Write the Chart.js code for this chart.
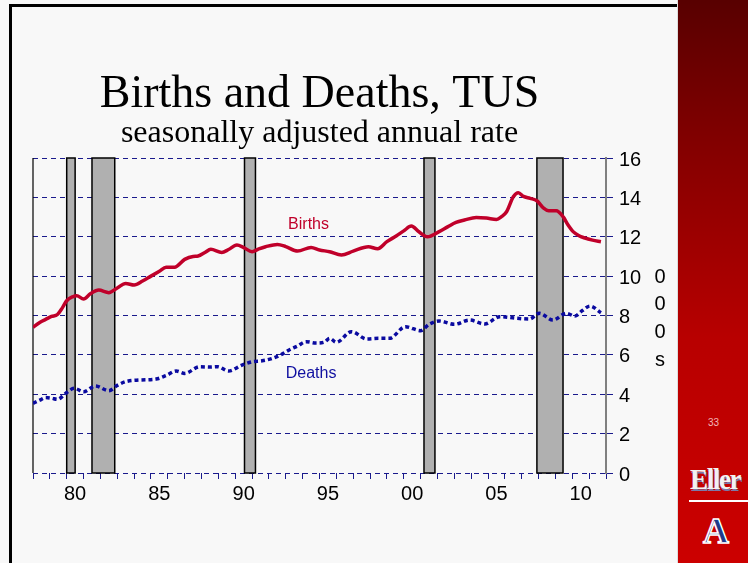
<!DOCTYPE html>
<html>
<head>
<meta charset="utf-8">
<script src="https://cdn.jsdelivr.net/npm/chart.js@4"></script>
<style>
  body { margin: 0; width: 748px; height: 563px; background: #f8f8f8; overflow: hidden; position: relative; font-family: "Liberation Sans", sans-serif; }
  #marco { position: absolute; left: 9px; top: 4px; width: 670px; height: 570px; border-top: 3px solid #000; border-left: 3px solid #000; }
  #lienzo { position: absolute; left: 0; top: 0; width: 678px; height: 563px; }
  #panel { position: absolute; left: 677px; top: 0; width: 71px; height: 563px; border-left: 1px solid #ddd;
           background: linear-gradient(to bottom, #580000 0%, #8a0000 30%, #b80000 60%, #cc0000 100%); }
  #pagina { position: absolute; left: 30px; top: 417px; font-size: 10px; color: #f2b8b8; }
  #eller { position: absolute; left: 12px; top: 462px; font: bold 30px "Liberation Serif", serif; letter-spacing: -1.5px;
           color: #f2f2f2; text-shadow: 1px 2px 0 #7a7aa8; white-space: nowrap; transform: scaleX(0.9); transform-origin: left; }
  #linea { position: absolute; left: 11px; top: 500px; width: 60px; height: 2px; background: #fff; }
  #logo { position: absolute; left: 25px; top: 510px; font: bold 36px "Liberation Serif", serif; color: #1e3a8a;
          -webkit-text-stroke: 1.5px #fff; }
</style>
</head>
<body>
<div id="marco"></div>
<canvas id="lienzo" width="678" height="563"></canvas>
<div id="panel">
  <div id="pagina">33</div>
  <div id="eller">Eller</div>
  <div id="linea"></div>
  <div id="logo">A</div>
</div>
<script>
// =======================
// Datos
// =======================
const birthYears = [1978.0, 1978.4, 1978.75, 1979.1, 1979.45, 1979.75, 1980.0, 1980.35, 1980.6, 1981.0,
  1981.4, 1981.9, 1982.5, 1983.0, 1983.5, 1984.0, 1984.5, 1985.0, 1985.5, 1985.9,
  1986.4, 1987.0, 1987.5, 1987.8, 1988.2, 1988.55, 1989.2, 1989.6, 1990.1, 1990.5,
  1991.0, 1991.4, 1991.8, 1992.5, 1993.0, 1993.7, 1994.5, 1995.0, 1995.6, 1996.3,
  1997.0, 1997.9, 1998.45, 1999.0, 1999.55, 2000.0, 2000.45, 2000.9, 2001.4, 2002.1,
  2002.6, 2003.1, 2003.6, 2004.3, 2004.9, 2005.5, 2005.8, 2006.1, 2006.5, 2006.8,
  2007.1, 2007.5, 2007.9, 2008.3, 2008.6, 2009.05, 2009.45, 2009.75, 2010.05, 2010.4,
  2010.7, 2011.2, 2011.7];
const births = [7.40, 7.65, 7.80, 7.95, 8.05, 8.40, 8.75, 8.95, 9.00, 8.84,
  9.10, 9.29, 9.16, 9.40, 9.63, 9.55, 9.75, 10.00, 10.25, 10.45,
  10.45, 10.85, 11.00, 11.02, 11.20, 11.36, 11.20, 11.35, 11.58, 11.45,
  11.24, 11.38, 11.49, 11.61, 11.50, 11.27, 11.46, 11.33, 11.24, 11.07,
  11.27, 11.49, 11.39, 11.75, 12.04, 12.30, 12.54, 12.25, 12.00, 12.26,
  12.50, 12.73, 12.85, 12.98, 12.95, 12.88, 13.02, 13.27, 14.03, 14.24,
  14.05, 13.95, 13.83, 13.45, 13.32, 13.32, 13.02, 12.60, 12.26, 12.05,
  11.95, 11.83, 11.75];

const deathYears = [1978.0, 1978.4, 1978.75, 1979.1, 1979.45, 1979.95, 1980.45, 1981.0, 1981.7, 1982.5,
  1983.0, 1983.5, 1984.3, 1985.3, 1985.9, 1986.5, 1987.0, 1987.9, 1988.5, 1988.95,
  1989.6, 1990.4, 1991.0, 1991.6, 1992.2, 1992.7, 1993.2, 1993.7, 1994.2, 1994.8,
  1995.3, 1995.6, 1996.0, 1996.9, 1997.8, 1998.5, 1999.15, 2000.1, 2001.0, 2001.5,
  2002.1, 2003.0, 2003.9, 2004.8, 2005.7, 2006.7, 2007.45, 2008.05, 2008.85, 2009.65,
  2010.15, 2010.6, 2011.05, 2011.7];
const deaths = [3.54, 3.70, 3.83, 3.80, 3.74, 4.05, 4.30, 4.13, 4.42, 4.18,
  4.45, 4.64, 4.72, 4.77, 4.95, 5.18, 5.06, 5.40, 5.38, 5.40,
  5.18, 5.48, 5.65, 5.70, 5.82, 6.00, 6.25, 6.45, 6.67, 6.60,
  6.65, 6.84, 6.64, 7.18, 6.81, 6.84, 6.84, 7.43, 7.23, 7.55,
  7.72, 7.55, 7.77, 7.57, 7.94, 7.86, 7.82, 8.11, 7.77, 8.11,
  7.97, 8.25, 8.48, 8.14];

// recesiones (inicio, fin)
const recessions = [[1980.0, 1980.5], [1981.5, 1982.85], [1990.55, 1991.2], [2001.2, 2001.85], [2007.9, 2009.45]];

const xLabelYears = [1980, 1985, 1990, 1995, 2000, 2005, 2010];
const yAxisTitle = ["0", "0", "0", "s"];

// etiquetas de series: [texto, año, valor, color]
const seriesLabels = [["Births", 1994.35, 12.6, "#c0002a"], ["Deaths", 1994.5, 5.03, "#1010a0"]];

const NAVY = "#1a1a8c";

// =======================
// Plugin: recesiones, bordes y etiquetas
// =======================
const fondo = {
  id: "fondo",
  beforeDatasetsDraw(chart) {
    const { ctx, chartArea: a, scales: { x } } = chart;
    ctx.save();
    recessions.forEach(([ini, fin]) => {
      const x0 = x.getPixelForValue(ini);
      const x1 = x.getPixelForValue(fin);
      ctx.fillStyle = "#b0b0b0";
      ctx.fillRect(x0, a.top, x1 - x0, a.bottom - a.top);
      ctx.strokeStyle = "#000";
      ctx.lineWidth = 1.5;
      ctx.strokeRect(x0, a.top, x1 - x0, a.bottom - a.top);
    });
    // borde izquierdo
    ctx.strokeStyle = "#000";
    ctx.lineWidth = 1.2;
    ctx.beginPath();
    ctx.moveTo(a.left, a.top);
    ctx.lineTo(a.left, a.bottom);
    ctx.stroke();
    ctx.restore();
  },
  afterDraw(chart) {
    const { ctx, chartArea: a, scales: { x, y } } = chart;
    ctx.save();
    ctx.textAlign = "center";
    ctx.textBaseline = "middle";
    ctx.font = '16px "Liberation Sans"';
    seriesLabels.forEach(([txt, yr, v, col]) => {
      ctx.fillStyle = col;
      ctx.fillText(txt, x.getPixelForValue(yr), y.getPixelForValue(v));
    });
    // titulo del eje: 000s en vertical
    ctx.font = '20px "Liberation Sans"';
    ctx.fillStyle = "#000";
    const top = y.getPixelForValue(10) + 1;
    yAxisTitle.forEach((c, i) => {
      ctx.fillText(c, a.right + 54, top + i * 27.8);
    });
    ctx.restore();
  }
};

// =======================
// Grafico
// =======================
const ctx = document.getElementById("lienzo").getContext("2d");
new Chart(ctx, {
  type: "line",
  data: {
    datasets: [
      {
        label: "Births",
        data: birthYears.map((yr, i) => ({ x: yr, y: births[i] })),
        borderColor: "#c0002a",
        borderWidth: 3.5,
        pointRadius: 0,
        cubicInterpolationMode: "monotone"
      },
      {
        label: "Deaths",
        data: deathYears.map((yr, i) => ({ x: yr, y: deaths[i] })),
        borderColor: "#0a0aa0",
        borderWidth: 3.5,
        borderDash: [4, 3],
        pointRadius: 0,
        cubicInterpolationMode: "monotone"
      }
    ]
  },
  options: {
    responsive: false,
    animation: false,
    layout: { padding: { left: 33, top: 72, right: 0, bottom: 0 } },
    plugins: {
      legend: { display: false },
      tooltip: { enabled: false },
      title: {
        display: true,
        text: "Births and Deaths, TUS",
        fullSize: false,
        color: "#000",
        font: { family: "Liberation Serif", size: 46, weight: "normal", lineHeight: 1 },
        padding: { top: 0, bottom: 0 }
      },
      subtitle: {
        display: true,
        text: "seasonally adjusted annual rate",
        fullSize: false,
        color: "#000",
        font: { family: "Liberation Serif", size: 32, lineHeight: 1 },
        padding: { top: 0, bottom: 8 }
      }
    },
    scales: {
      x: {
        type: "linear",
        min: 1978,
        max: 2012,
        afterFit(scale) { scale.height = 90; },
        border: { display: false },
        grid: { drawOnChartArea: false, drawTicks: true, tickLength: 6, tickColor: NAVY, tickWidth: 1 },
        ticks: {
          stepSize: 1,
          autoSkip: false,
          maxRotation: 0,
          labelOffset: 8.4,
          padding: 3,
          color: "#000",
          font: { family: "Liberation Sans", size: 20 },
          callback: (v) => xLabelYears.includes(v) ? String(v % 100).padStart(2, "0") : ""
        }
      },
      y: {
        position: "right",
        min: 0,
        max: 16,
        afterFit(scale) { scale.width = 72; },
        border: { display: true, color: "#808080", width: 2, dash: [5, 4] },
        grid: { color: NAVY, lineWidth: 1, tickColor: NAVY, tickLength: 7, tickBorderDash: [] },
        ticks: {
          stepSize: 2,
          padding: 6,
          labelOffset: 2,
          color: "#000",
          font: { family: "Liberation Sans", size: 20 }
        }
      }
    }
  },
  plugins: [fondo]
});
</script>
</body>
</html>
